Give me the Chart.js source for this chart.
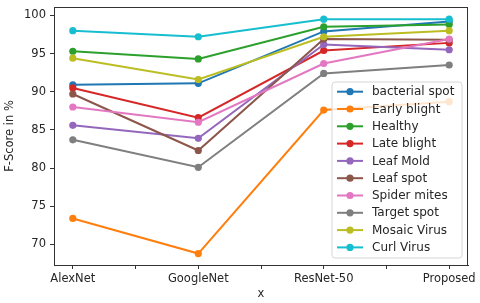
<!DOCTYPE html>
<html>
<head>
<meta charset="utf-8">
<script src="https://cdn.jsdelivr.net/npm/chart.js@4/dist/chart.umd.min.js"></script>
<style>
  html, body { margin: 0; padding: 0; background: #fff; }
  #wrap { width: 480px; height: 303px; }
</style>
</head>
<body>
<div id="wrap"><canvas id="fscore"></canvas></div>
<script>
// models on the x axis
var categories = ['AlexNet', 'GoogleNet', 'ResNet-50', 'Proposed'];

// F-score (%) per class, one value per model
var bacterialSpot = [90.9, 91.1, 97.9, 99.2];
var earlyBlight   = [73.4, 68.8, 87.6, 88.7];
var healthy       = [95.3, 94.3, 98.5, 98.8];
var lateBlight    = [90.5, 86.6, 95.4, 96.4];
var leafMold      = [85.6, 83.9, 96.2, 95.5];
var leafSpot      = [89.7, 82.3, 96.9, 96.8];
var spiderMites   = [88.0, 86.0, 93.7, 96.9];
var targetSpot    = [83.7, 80.1, 92.4, 93.5];
var mosaicVirus   = [94.4, 91.6, 97.2, 98.0];
var curlVirus     = [98.0, 97.2, 99.5, 99.5];

var seriesNames = ['bacterial spot', 'Early blight', 'Healthy', 'Late blight', 'Leaf Mold',
                   'Leaf spot', 'Spider mites', 'Target spot', 'Mosaic Virus', 'Curl Virus'];
var seriesValues = [bacterialSpot, earlyBlight, healthy, lateBlight, leafMold,
                    leafSpot, spiderMites, targetSpot, mosaicVirus, curlVirus];
var colors = ['#1f77b4', '#ff7f0e', '#2ca02c', '#d62728', '#9467bd',
              '#8c564b', '#e377c2', '#7f7f7f', '#bcbd22', '#17becf'];

var FONT = 'DejaVu Sans';
var TXT = '#262626';

var datasets = [];
for (var i = 0; i < seriesNames.length; i++) {
    var pts = [];
    for (var j = 0; j < categories.length; j++) pts.push({x: j, y: seriesValues[i][j]});
    datasets.push({
        label: seriesNames[i],
        data: pts,
        borderColor: colors[i],
        backgroundColor: colors[i],
        pointBackgroundColor: colors[i],
        pointBorderColor: colors[i],
        borderWidth: 2,
        pointRadius: 3.6,
        pointBorderWidth: 0,
        tension: 0,
        order: -i   // later series drawn on top, like matplotlib
    });
}

// frame + legend box inside the plot
var framePlugin = {
    id: 'frameLegend',
    afterDatasetsDraw: function(chart) {
        var ctx = chart.ctx, a = chart.chartArea;
        ctx.save();
        ctx.strokeStyle = '#333';
        ctx.lineWidth = 1;
        ctx.strokeRect(a.left + 0.5, a.top + 0.5, a.right - a.left - 1, a.bottom - a.top);

        var bx = 332, by = 82, bw = 130, bh = 176, r = 3;
        ctx.beginPath();
        ctx.moveTo(bx + r, by);
        ctx.arcTo(bx + bw, by, bx + bw, by + bh, r);
        ctx.arcTo(bx + bw, by + bh, bx, by + bh, r);
        ctx.arcTo(bx, by + bh, bx, by, r);
        ctx.arcTo(bx, by, bx + bw, by, r);
        ctx.closePath();
        ctx.fillStyle = 'rgba(255,255,255,0.8)';
        ctx.fill();
        ctx.strokeStyle = '#d6d6d6';
        ctx.stroke();

        ctx.font = '12px "' + FONT + '"';
        ctx.textBaseline = 'middle';
        ctx.textAlign = 'left';
        for (var k = 0; k < chart.data.datasets.length; k++) {
            var ds = chart.data.datasets[k];
            var y = 91.7 + k * 17.3;
            ctx.strokeStyle = ds.borderColor;
            ctx.lineWidth = 2;
            ctx.beginPath();
            ctx.moveTo(337, y);
            ctx.lineTo(363, y);
            ctx.stroke();
            ctx.fillStyle = ds.borderColor;
            ctx.beginPath();
            ctx.arc(350, y, 3.6, 0, Math.PI * 2);
            ctx.fill();
            ctx.fillStyle = TXT;
            ctx.fillText(ds.label, 372, y + 0.5);
        }
        ctx.restore();
    }
};

new Chart(document.getElementById('fscore'), {
    type: 'line',
    data: { datasets: datasets },
    plugins: [framePlugin],
    options: {
        responsive: true,
        maintainAspectRatio: false,
        animation: false,
        layout: { padding: { left: 0, top: 7, right: 12, bottom: 0 } },
        plugins: { legend: { display: false }, tooltip: { enabled: false } },
        scales: {
            x: {
                type: 'linear',
                min: -0.15,
                max: 3.15,
                afterFit: function(s) { s.height = 38; s.paddingLeft = 0; s.paddingRight = 0; },
                grid: { drawOnChartArea: false, drawTicks: true, tickLength: 4, tickColor: '#333' },
                border: { display: true, color: '#333', width: 1 },
                ticks: {
                    stepSize: 0.5,
                    includeBounds: false,
                    autoSkip: false,
                    maxRotation: 0,
                    padding: 3,
                    color: TXT,
                    font: { family: FONT, size: 11.5 },
                    callback: function(v) {
                        return Number.isInteger(v) ? categories[v] : '';
                    }
                },
                title: { display: true, text: 'x', color: TXT, font: { family: FONT, size: 11.5 },
                         padding: { top: 0, bottom: 2 } }
            },
            y: {
                min: 67.3,
                max: 101.1,
                afterFit: function(s) { s.width = 54; s.paddingTop = 0; s.paddingBottom = 0; },
                grid: { drawOnChartArea: false, drawTicks: true, tickLength: 4, tickColor: '#333' },
                border: { display: true, color: '#333', width: 1 },
                ticks: {
                    stepSize: 5,
                    includeBounds: false,
                    padding: 4,
                    color: TXT,
                    font: { family: FONT, size: 11.5 }
                },
                title: { display: true, text: 'F-Score in %', color: TXT, font: { family: FONT, size: 11.5 },
                         padding: { top: 3.5, bottom: 0 } }
            }
        }
    }
});
</script>
</body>
</html>
